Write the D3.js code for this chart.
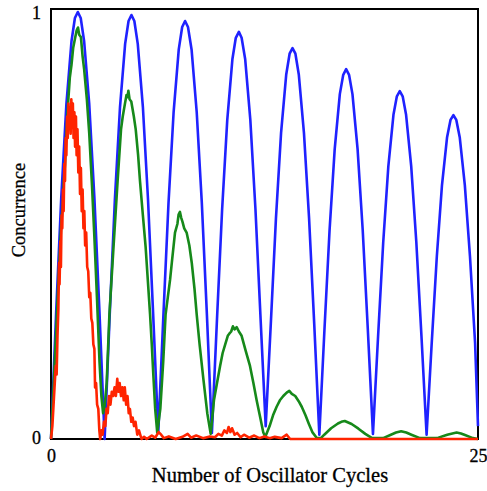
<!DOCTYPE html>
<html>
<head>
<meta charset="utf-8">
<script src="https://d3js.org/d3.v7.min.js"></script>
<style>
  body { margin: 0; background: #fff; }
  svg text { stroke: #000; stroke-width: 0.3px; }
</style>
</head>
<body>
<div id="chart"></div>
<script>
// values: [cycles, concurrence]
var blueSeries = [
  [0,0],[0.3,.293],[0.6,.561],[0.9,.778],[1.2,.925],[1.4,.979],[1.57,.993],[1.74,.979],[1.94,.925],[2.24,.778],[2.54,.561],[2.84,.293],
  [3.14,0],[3.44,.291],[3.74,.557],[4.04,.772],[4.34,.919],[4.54,.972],[4.71,.986],[4.88,.972],[5.08,.919],[5.38,.772],[5.68,.557],[5.98,.291],
  [6.28,.014],[6.58,.287],[6.88,.549],[7.18,.761],[7.48,.906],[7.68,.958],[7.85,.972],[8.02,.958],[8.23,.906],[8.53,.761],[8.83,.549],[9.13,.287],
  [9.42,.014],[9.72,.280],[10.02,.535],[10.32,.742],[10.62,.883],[10.82,.933],[11.0,.947],[11.16,.933],[11.37,.883],[11.67,.742],[11.97,.535],[12.27,.280],
  [12.57,.03],[12.87,.269],[13.17,.513],[13.47,.712],[13.77,.847],[13.97,.896],[14.14,.909],[14.31,.896],[14.51,.847],[14.81,.712],[15.11,.513],[15.41,.269],
  [15.71,.01],[16.01,.254],[16.31,.486],[16.61,.674],[16.91,.802],[17.11,.847],[17.28,.860],[17.45,.847],[17.65,.802],[17.95,.674],[18.25,.486],[18.55,.254],
  [18.85,.012],[19.15,.239],[19.45,.457],[19.75,.634],[20.05,.754],[20.25,.797],[20.42,.809],[20.59,.797],[20.79,.754],[21.09,.634],[21.39,.457],[21.69,.239],
  [21.99,.01],[22.29,.223],[22.59,.425],[22.89,.590],[23.19,.702],[23.39,.742],[23.56,.753],[23.73,.742],[23.93,.702],[24.23,.590],[24.53,.425],[24.83,.223],
  [25,.03]
];

var greenSeries = [
  [0,0],[0.15,0.12],[0.3,0.25],[0.45,0.38],[0.6,0.50],[0.7,0.55],[0.75,0.60],[0.82,0.64],[0.9,0.71],[1.0,0.78],[1.1,0.84],[1.2,0.87],
  [1.3,0.91],[1.4,0.93],[1.5,0.95],[1.58,0.957],[1.65,0.94],[1.75,0.935],[1.85,0.89],[1.94,0.86],[2.1,0.79],[2.24,0.71],[2.4,0.59],
  [2.54,0.47],[2.7,0.32],[2.84,0.18],[2.95,0.10],[3.05,0.06],
  [3.15,0.08],[3.26,0.13],[3.42,0.29],[3.65,0.44],[3.9,0.60],[4.1,0.72],[4.2,0.75],[4.33,0.78],[4.42,0.80],[4.48,0.795],
  [4.53,0.81],[4.6,0.79],[4.7,0.785],[4.85,0.75],[4.96,0.72],[5.1,0.66],[5.21,0.60],[5.38,0.52],[5.54,0.447],[5.8,0.29],[5.9,0.22],
  [5.99,0.15],[6.1,0.07],[6.22,0.015],
  [6.4,0.07],[6.57,0.18],[6.71,0.29],[6.84,0.33],[6.97,0.37],[7.1,0.42],[7.26,0.48],[7.4,0.50],[7.47,0.522],[7.55,0.528],[7.62,0.515],
  [7.7,0.505],[7.8,0.49],[7.94,0.48],[8.1,0.45],[8.24,0.41],[8.4,0.35],[8.53,0.29],[8.7,0.22],[8.92,0.14],[9.15,0.06],[9.35,0.012],
  [9.54,0.09],[9.72,0.13],[9.9,0.17],[10.05,0.20],[10.2,0.22],[10.35,0.24],[10.44,0.245],[10.55,0.25],[10.65,0.262],[10.75,0.255],
  [10.87,0.26],[11.0,0.25],[11.16,0.24],[11.4,0.205],[11.65,0.17],[11.85,0.13],[12.04,0.09],[12.25,0.05],[12.43,0.015],[12.55,0.005],
  [12.8,0.03],[13.0,0.055],[13.21,0.075],[13.4,0.09],[13.6,0.10],[13.8,0.108],[13.95,0.112],[14.1,0.105],[14.3,0.10],[14.5,0.088],
  [14.68,0.075],[14.9,0.055],[15.1,0.035],[15.3,0.016],[15.55,0.003],
  [15.8,0.002],[16.0,0.01],[16.4,0.025],[16.8,0.036],[17.0,0.04],[17.2,0.042],[17.6,0.035],[18.0,0.024],[18.4,0.012],[18.8,0.002],
  [19.45,0.002],[19.9,0.01],[20.2,0.015],[20.5,0.018],[20.8,0.015],[21.1,0.01],[21.6,0.002],
  [22.6,0.002],[23.2,0.01],[23.5,0.013],[23.75,0.015],[24.0,0.013],[24.2,0.01],[24.7,0.002],[25,0]
];

var redSeries = [
  [0,0],[0.08,0.03],[0.15,0.08],[0.22,0.13],[0.28,0.17],[0.33,0.15],[0.38,0.24],[0.43,0.30],[0.47,0.41],[0.5,0.36],[0.55,0.46],
  [0.58,0.40],[0.62,0.52],[0.66,0.49],[0.7,0.58],[0.74,0.53],[0.78,0.64],[0.82,0.60],[0.86,0.70],[0.9,0.66],[0.94,0.75],[0.98,0.70],
  [1.02,0.78],[1.06,0.73],[1.1,0.77],[1.15,0.71],[1.19,0.79],[1.23,0.74],[1.28,0.78],[1.32,0.70],[1.37,0.76],[1.41,0.68],[1.46,0.75],
  [1.5,0.66],[1.55,0.72],[1.6,0.62],[1.65,0.68],[1.7,0.57],[1.75,0.63],[1.8,0.53],[1.85,0.58],[1.9,0.49],[1.95,0.53],[2.0,0.45],
  [2.06,0.48],[2.12,0.40],[2.18,0.39],[2.24,0.33],[2.3,0.34],[2.36,0.28],[2.42,0.27],[2.48,0.22],[2.54,0.21],[2.58,0.12],[2.64,0.13],
  [2.7,0.08],[2.77,0.07],[2.83,0.02],[2.88,0.0],[2.95,0.02],[3.02,0.01],[3.1,0.04],[3.18,0.03],[3.25,0.07],[3.32,0.06],[3.4,0.10],
  [3.48,0.08],[3.56,0.11],[3.64,0.10],[3.72,0.12],[3.8,0.10],[3.88,0.14],[3.95,0.11],[4.02,0.13],[4.1,0.10],[4.18,0.12],[4.26,0.09],
  [4.32,0.12],[4.4,0.08],[4.48,0.10],[4.55,0.06],[4.62,0.07],[4.7,0.04],[4.78,0.05],[4.86,0.03],[4.95,0.04],[5.05,0.01],[5.15,0.02],
  [5.3,0.0],[5.45,0.005],[5.6,0.0],[5.9,0.008],[6.1,0.003],[6.3,0.016],[6.45,0.01],[6.6,0.002],[6.9,0.006],[7.3,0.0],[7.7,0.005],
  [8.0,0.012],[8.2,0.003],[8.5,0.008],[8.9,0.002],[9.3,0.006],[9.6,0.004],[9.8,0.012],[10.0,0.008],[10.15,0.02],[10.3,0.014],
  [10.4,0.028],[10.5,0.016],[10.6,0.025],[10.75,0.01],[10.9,0.014],[11.1,0.004],[11.3,0.01],[11.6,0.003],[11.9,0.008],[12.2,0.002],
  [12.5,0.006],[12.8,0.002],[13.1,0.005],[13.5,0.002],[13.8,0.01],[14.0,0.0],[25,0]
];

var xTicks = [0, 25];
var yTicks = [0, 1];
var xTitle = "Number of Oscillator Cycles";
var yTitle = "Concurrence";

var FONT = 'Liberation Serif';

var dims = {
  W: 487, H: 491,
  MARGINS: { top: 9, right: 9, bottom: 52, left: 51 }
};
var width = dims.W - dims.MARGINS.left - dims.MARGINS.right;   // 427
var height = dims.H - dims.MARGINS.top - dims.MARGINS.bottom;  // 430

var svg = d3.select('#chart').append('svg')
  .attr('width', dims.W)
  .attr('height', dims.H);

var g = svg.append('g')
  .attr('transform', 'translate(' + dims.MARGINS.left + ',' + dims.MARGINS.top + ')');

var x = d3.scaleLinear().domain([0, 25]).range([0, width]);
var y = d3.scaleLinear().domain([0, 1]).range([height, 0]);

// frame
g.append('rect')
  .attr('x', 0).attr('y', 0)
  .attr('width', width).attr('height', height)
  .attr('fill', 'none')
  .attr('stroke', '#000')
  .attr('stroke-width', 2);

// axes (labels only)
var xAxis = g.append('g')
  .attr('transform', 'translate(0,' + height + ')')
  .call(d3.axisBottom(x).tickValues(xTicks).tickSize(0).tickPadding(10).tickFormat(d3.format('d')))
  .attr('font-family', FONT)
  .attr('font-size', 18);
xAxis.select('.domain').remove();
xAxis.selectAll('text').attr('fill', '#000');

var yAxis = g.append('g')
  .call(d3.axisLeft(y).tickValues(yTicks).tickSize(0).tickPadding(10).tickFormat(d3.format('d')))
  .attr('font-family', FONT)
  .attr('font-size', 18);
yAxis.select('.domain').remove();
yAxis.selectAll('text')
  .attr('fill', '#000')
  .attr('dy', function(d) { return d === 1 ? '0.55em' : '0.25em'; });

// lines
var line = d3.line()
  .x(function(d) { return x(d[0]); })
  .y(function(d) { return y(d[1]); });

var series = [
  { data: blueSeries, color: '#1f22ff' },
  { data: greenSeries, color: '#16891a' },
  { data: redSeries, color: '#ff2400' }
];

series.forEach(function(s) {
  g.append('path')
    .datum(s.data)
    .attr('fill', 'none')
    .attr('stroke', s.color)
    .attr('stroke-width', 2.6)
    .attr('stroke-linejoin', 'round')
    .attr('d', line);
});

// titles
svg.append('text')
  .attr('x', 270)
  .attr('y', 482)
  .attr('text-anchor', 'middle')
  .attr('font-family', FONT)
  .attr('font-size', 20.5)
  .attr('fill', '#000')
  .text(xTitle);

svg.append('text')
  .attr('transform', 'translate(25,210) rotate(-90)')
  .attr('text-anchor', 'middle')
  .attr('font-family', FONT)
  .attr('font-size', 18.5)
  .attr('fill', '#000')
  .text(yTitle);
</script>
</body>
</html>
